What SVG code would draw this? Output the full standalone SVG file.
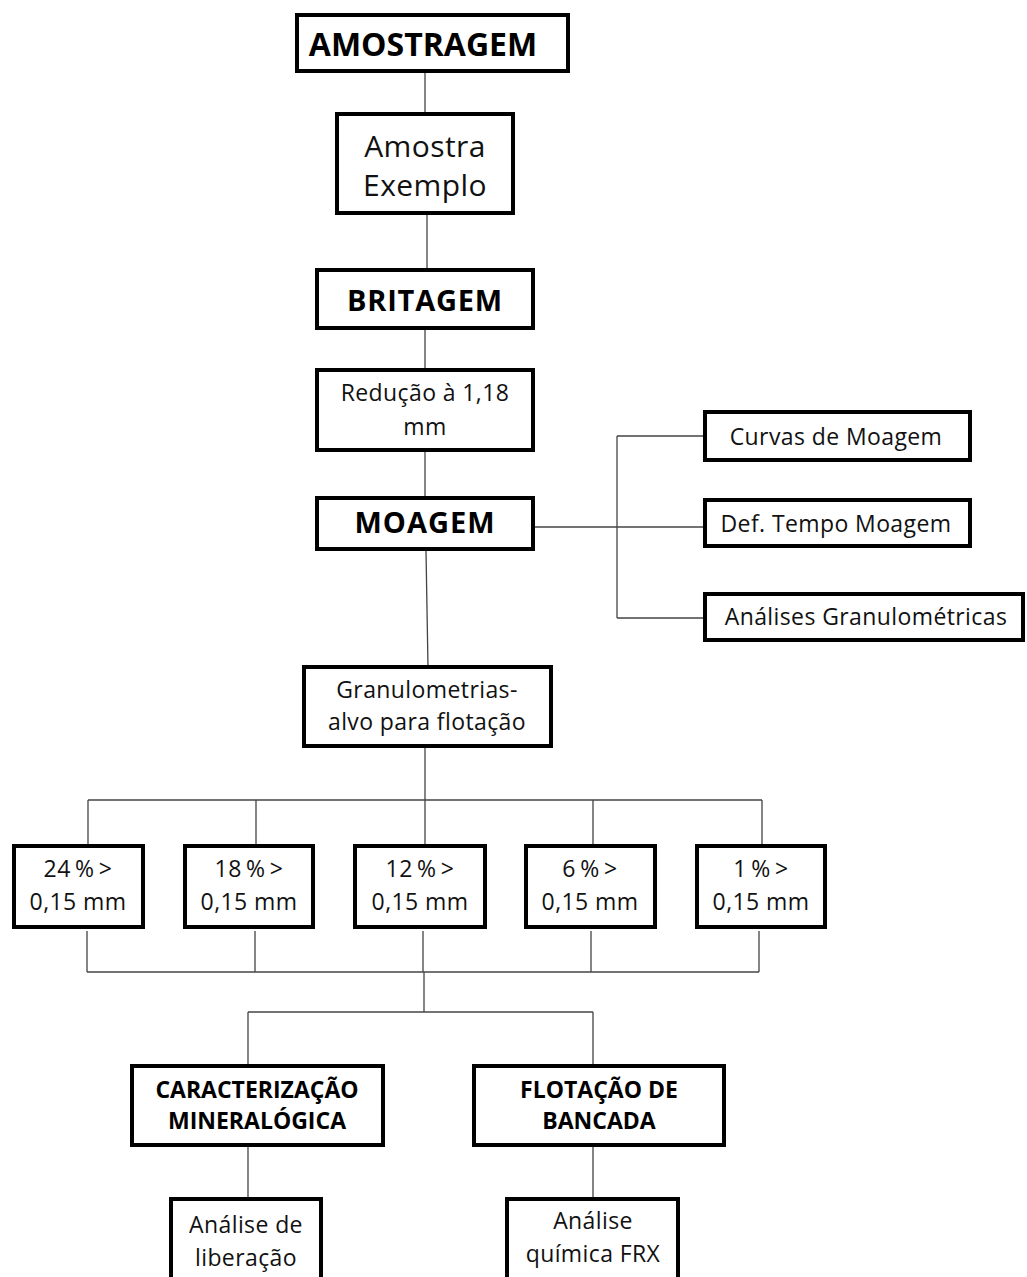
<svg xmlns="http://www.w3.org/2000/svg" width="1027" height="1277" viewBox="0 0 1027 1277">
<style>
.box{fill:#fff;stroke:#000;stroke-width:4}
.t{font-family:"Open Sans","Liberation Sans",sans-serif;font-size:23px;letter-spacing:0.4px;fill:#111;text-anchor:middle}
.b{font-family:"Open Sans","Liberation Sans",sans-serif;font-weight:bold;fill:#000;text-anchor:middle}
.c{fill:none;stroke:#444;stroke-width:1.3}
</style>
<rect width="1027" height="1277" fill="#fff"/>
<g id="connectors">
<path class="c" d="M425 73V114"/>
<path class="c" d="M427 215V270"/>
<path class="c" d="M425 330V370"/>
<path class="c" d="M425 452V498"/>
<path class="c" d="M535 527H705"/>
<path class="c" d="M617 436V618"/>
<path class="c" d="M617 436H705M617 618H705"/>
<path class="c" d="M426 551L428 667"/>
<path class="c" d="M425 748V844"/>
<path class="c" d="M88 800H762"/>
<path class="c" d="M88 800V844M256 800V844M593 800V844M762 800V844"/>
<path class="c" d="M87 931V972M255 931V972M423 931V972M591 931V972M759 931V972"/>
<path class="c" d="M87 972H759"/>
<path class="c" d="M424 972V1012"/>
<path class="c" d="M248 1012H593"/>
<path class="c" d="M248 1012V1066M593 1012V1066"/>
<path class="c" d="M248 1147V1199M593 1147V1199"/>
</g>
<g id="amostragem"><rect class="box" x="297" y="15" width="271" height="56"/><text class="b" x="423" y="56" font-size="32">AMOSTRAGEM</text></g>
<g id="amostra"><rect class="box" x="337" y="114" width="176" height="99"/><text class="t" x="425" y="157" style="font-size:30px">Amostra</text><text class="t" x="425" y="196" style="font-size:30px">Exemplo</text></g>
<g id="britagem"><rect class="box" x="317" y="270" width="216" height="58"/><text class="b" x="425" y="311" font-size="29" letter-spacing="0.8">BRITAGEM</text></g>
<g id="reducao"><rect class="box" x="317" y="370" width="216" height="80"/><text class="t" x="425" y="401">Redução à 1,18</text><text class="t" x="425" y="435">mm</text></g>
<g id="moagem"><rect class="box" x="317" y="498" width="216" height="51"/><text class="b" x="425" y="533" font-size="29" letter-spacing="1">MOAGEM</text></g>
<g id="curvas"><rect class="box" x="705" y="412" width="265" height="48"/><text class="t" x="836" y="445">Curvas de Moagem</text></g>
<g id="deftempo"><rect class="box" x="705" y="500" width="265" height="46"/><text class="t" x="836" y="532">Def. Tempo Moagem</text></g>
<g id="analises"><rect class="box" x="705" y="594" width="318" height="46"/><text class="t" x="866" y="625">Análises Granulométricas</text></g>
<g id="granulometrias"><rect class="box" x="304" y="667" width="247" height="79"/><text class="t" x="427" y="698">Granulometrias-</text><text class="t" x="427" y="730">alvo para flotação</text></g>
<g id="p24"><rect class="box" x="14" y="846" width="129" height="81"/><text class="t" x="78" y="877" word-spacing="-2">24 % &gt;</text><text class="t" x="78" y="910">0,15 mm</text></g>
<g id="p18"><rect class="box" x="185" y="846" width="128" height="81"/><text class="t" x="249" y="877" word-spacing="-2">18 % &gt;</text><text class="t" x="249" y="910">0,15 mm</text></g>
<g id="p12"><rect class="box" x="355" y="846" width="130" height="81"/><text class="t" x="420" y="877" word-spacing="-2">12 % &gt;</text><text class="t" x="420" y="910">0,15 mm</text></g>
<g id="p6"><rect class="box" x="526" y="846" width="129" height="81"/><text class="t" x="590" y="877" word-spacing="-2">6 % &gt;</text><text class="t" x="590" y="910">0,15 mm</text></g>
<g id="p1"><rect class="box" x="697" y="846" width="128" height="81"/><text class="t" x="761" y="877" word-spacing="-2">1 % &gt;</text><text class="t" x="761" y="910">0,15 mm</text></g>
<g id="caracterizacao"><rect class="box" x="132" y="1066" width="251" height="79"/><text class="b" x="257" y="1098" font-size="23">CARACTERIZAÇÃO</text><text class="b" x="257" y="1129" font-size="23">MINERALÓGICA</text></g>
<g id="flotacao"><rect class="box" x="474" y="1066" width="250" height="79"/><text class="b" x="599" y="1098" font-size="23">FLOTAÇÃO DE</text><text class="b" x="599" y="1129" font-size="23">BANCADA</text></g>
<g id="liberacao"><rect class="box" x="171" y="1199" width="150" height="100"/><text class="t" x="246" y="1233">Análise de</text><text class="t" x="246" y="1266">liberação</text></g>
<g id="frx"><rect class="box" x="507" y="1199" width="171" height="100"/><text class="t" x="593" y="1229">Análise</text><text class="t" x="593" y="1262">química FRX</text></g>
</svg>
